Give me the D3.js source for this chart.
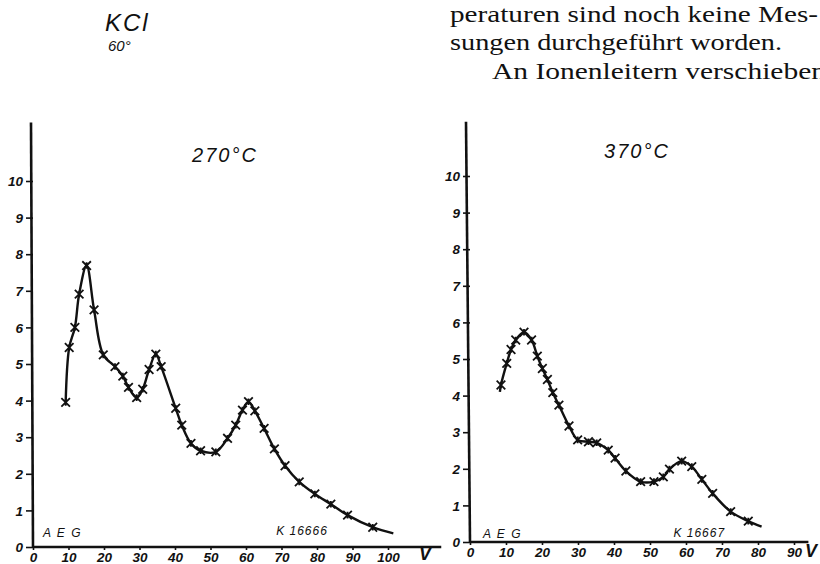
<!DOCTYPE html>
<html><head><meta charset="utf-8">
<script src="https://cdn.jsdelivr.net/npm/d3@7"></script>
<style>
body{margin:0;background:#fff;}
svg{display:block;}
.tk text{font-family:"Liberation Sans",Arial,sans-serif;font-style:italic;font-weight:bold;font-size:13.5px;fill:#111;}
.tk line{stroke:#111;stroke-width:1.6;}
</style></head>
<body>
<svg id="c" width="820" height="564"></svg>
<script>
// ---- data ----
const yTicks = [0,1,2,3,4,5,6,7,8,9,10];
const xTicks270 = [0,10,20,30,40,50,60,70,80,90,100];
const xTicks370 = [0,10,20,30,40,50,60,70,80,90];

// 270 °C measured points (voltage V, current)
const v270 = [9.2,10.2,11.8,13.0,15.1,17.2,19.8,23.1,25.3,26.9,29.2,30.9,32.7,34.6,36.1,40.2,41.9,44.5,47.2,51.5,54.8,57.1,59.0,60.7,62.5,65.1,68.0,71.0,75.0,79.4,83.9,88.6,95.7];
const i270 = [3.95,5.45,6.0,6.91,7.69,6.48,5.25,4.93,4.67,4.36,4.08,4.31,4.85,5.27,4.93,3.79,3.33,2.83,2.63,2.60,2.97,3.33,3.74,3.97,3.72,3.24,2.68,2.22,1.78,1.45,1.17,0.87,0.54];
// curve end beyond the last point
const tail270V = [101.5];
const tail270I = [0.37];

// 370 °C measured points
const v370 = [8.6,10.2,11.4,12.7,15.0,17.1,18.7,20.1,21.5,23.0,24.7,27.5,29.9,32.9,35.2,38.4,40.3,43.3,47.4,51.1,53.7,55.4,58.8,61.6,64.4,67.4,72.4,77.3];
const i370 = [4.29,4.88,5.26,5.52,5.73,5.52,5.08,4.74,4.44,4.08,3.74,3.17,2.79,2.74,2.71,2.51,2.29,1.94,1.65,1.65,1.78,1.99,2.21,2.06,1.71,1.33,0.83,0.57];
const head370V = [8.3];
const head370I = [4.1];
const tail370V = [81.0];
const tail370I = [0.42];

const titles = ["270°C","370°C"];
const makers = ["A E G","A E G"];
const codes = ["K 16666","K 16667"];
const bodyLines = ["peraturen sind noch keine Mes-","sungen durchgeführt worden.","An Ionenleitern verschieben"];

// ---- drawing ----
const svg = d3.select("#c");
const ink = "#111";
const hand = "Liberation Sans, Arial, sans-serif";

function panel(opt){
  const x = d3.scaleLinear().domain([0,opt.xMax]).range([opt.x0,opt.x1]);
  const y = d3.scaleLinear().domain([0,10]).range([opt.y0,opt.y10]);
  const g = svg.append("g");
  // axis lines (hand-drawn, slightly slanted y axis)
  g.append("line").attr("x1",x(0)-opt.slant).attr("x2",x(0)).attr("y1",y(opt.yTop)).attr("y2",y(0))
    .attr("stroke",ink).attr("stroke-width",2.6);
  g.append("line").attr("x1",x(0)).attr("x2",x(opt.xEnd)).attr("y1",y(0)).attr("y2",y(0))
    .attr("stroke",ink).attr("stroke-width",2.4);
  // y axis ticks
  const ya = g.append("g").attr("class","tk").attr("transform",`translate(${x(0)},0)`)
    .call(d3.axisLeft(y).tickValues(yTicks).tickSize(7).tickPadding(3).tickFormat(d3.format("d")));
  ya.select(".domain").remove();
  ya.selectAll("text").attr("dy","0.35em");
  // x axis ticks
  const xa = g.append("g").attr("class","tk").attr("transform",`translate(0,${y(0)})`)
    .call(d3.axisBottom(x).tickValues(opt.xTicks).tickSize(3).tickPadding(2).tickFormat(d3.format("d")));
  xa.select(".domain").remove();
  xa.selectAll("text").attr("font-size","14.5px");
  // curve
  const pts = opt.lineV.map((v,i)=>[v,opt.lineI[i]]);
  g.append("path").datum(pts)
    .attr("d", d3.line().x(d=>x(d[0])).y(d=>y(d[1])).curve(d3.curveCatmullRom.alpha(0.5)))
    .attr("fill","none").attr("stroke",ink).attr("stroke-width",2.4).attr("stroke-linejoin","round");
  // markers
  const s = 4.3;
  g.selectAll("path.m").data(opt.v.map((v,i)=>[v,opt.i[i]])).join("path").attr("class","m")
    .attr("d",d=>{const cx=x(d[0]),cy=y(d[1]);
      return `M${cx-s},${cy-s}L${cx+s},${cy+s}M${cx-s},${cy+s}L${cx+s},${cy-s}M${cx},${cy-s+1}L${cx},${cy+s-1}`;})
    .attr("stroke",ink).attr("stroke-width",1.8).attr("fill","none");
  // title
  g.append("text").attr("x",opt.titleX).attr("y",opt.titleY).attr("text-anchor","middle")
    .attr("font-family",hand).attr("font-style","italic")
    .attr("font-size","20px").attr("letter-spacing","2px").attr("fill",ink).text(opt.title);
  // labels
  g.append("text").attr("x",x(opt.makerAt[0])).attr("y",y(opt.makerAt[1]))
    .attr("font-family",hand).attr("font-style","italic")
    .attr("font-size","12px").attr("letter-spacing","1.5px").attr("fill",ink).text(opt.maker);
  g.append("text").attr("x",x(opt.codeAt[0])).attr("y",y(opt.codeAt[1]))
    .attr("font-family",hand).attr("font-style","italic")
    .attr("font-size","12px").attr("letter-spacing","1px").attr("fill",ink).text(opt.code);
  g.append("text").attr("x",opt.vx).attr("y",opt.vy)
    .attr("font-family",hand).attr("font-style","italic").attr("font-weight","bold")
    .attr("font-size","18px").attr("fill",ink).text("V");
}

panel({xMax:100,x0:33,x1:388,y0:547,y10:181,yTop:11.6,xEnd:115,xTicks:xTicks270,slant:2,
  v:v270,i:i270,lineV:v270.concat(tail270V),lineI:i270.concat(tail270I),
  title:titles[0],titleX:225,titleY:162,maker:makers[0],makerAt:[2.8,0.27],
  code:codes[0],codeAt:[68.5,0.33],vx:419,vy:560});

panel({xMax:90,x0:470,x1:794,y0:542,y10:176,yTop:11.48,xEnd:94,xTicks:xTicks370,slant:4,
  v:v370,i:i370,lineV:head370V.concat(v370,tail370V),lineI:head370I.concat(i370,tail370I),
  title:titles[1],titleX:637,titleY:158,maker:makers[1],makerAt:[3.6,0.1],
  code:codes[1],codeAt:[56.5,0.15],vx:805,vy:557});

// header
svg.append("text").attr("x",105).attr("y",31)
  .attr("font-family",hand).attr("font-style","italic")
  .attr("font-size","24px").attr("letter-spacing","2px").attr("fill",ink).text("KCl");
svg.append("text").attr("x",108).attr("y",51)
  .attr("font-family",hand).attr("font-style","italic")
  .attr("font-size","15px").attr("fill",ink).text("60°");

const body = [{x:450,y:22,len:368},{x:450,y:50,len:332},{x:492,y:79,len:334}];
bodyLines.forEach((t,k)=>{
  svg.append("text").attr("x",body[k].x).attr("y",body[k].y)
    .attr("font-family","Liberation Serif, DejaVu Serif, serif")
    .attr("font-size","23px").attr("fill","#111")
    .attr("textLength",body[k].len).attr("lengthAdjust","spacingAndGlyphs").text(t);
});
</script>
</body></html>
